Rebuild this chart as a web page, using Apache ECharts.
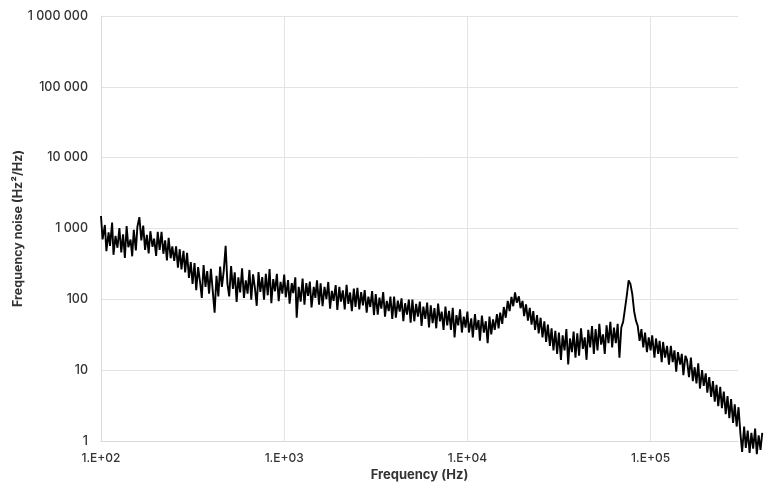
<!DOCTYPE html>
<html>
<head>
<meta charset="utf-8">
<script src="https://cdn.jsdelivr.net/npm/echarts@6/dist/echarts.min.js"></script>
<style>
html,body{margin:0;padding:0;background:#fff;}
#chart{width:775px;height:495px;}
</style>
</head>
<body>
<div id="chart"></div>
<script>
// Frequency (Hz)
const freqHz = [
  100,102,105,107,110,112,115,117,120,123,126,129,132,135,138,141,145,148,151,155,158,162,166,170,174,178,182,186,191,195,200,204,209,214,219,224,229,234,240,245,251,257,263,269,275,282,288,295,302,309,316,324,331,339,347,355,363,372,380,389,398,407,417,427,437,447,457,468,479,490,501,513,525,537,550,562,575,589,603,617,631,646,661,676,692,708,724,741,759,776,794,813,832,851,871,891,912,933,955,977,
  1000,1020,1050,1070,1100,1120,1150,1170,1200,1230,1260,1290,1320,1350,1380,1410,1450,1480,1510,1550,1580,1620,1660,1700,1740,1780,1820,1860,1910,1950,2000,2040,2090,2140,2190,2240,2290,2340,2400,2450,2510,2570,2630,2690,2750,2820,2880,2950,3020,3090,3160,3240,3310,3390,3470,3550,3630,3720,3800,3890,3980,4070,4170,4270,4370,4470,4570,4680,4790,4900,5010,5130,5250,5370,5500,5620,5750,5890,6030,6170,6310,6460,6610,6760,6920,7080,7240,7410,7590,7760,7940,8130,8320,8510,8710,8910,9120,9330,9550,9770,
  10000,10200,10500,10700,11000,11200,11500,11700,12000,12300,12600,12900,13200,13500,13800,14100,14500,14800,15100,15500,15800,16200,16600,17000,17400,17800,18200,18600,19100,19500,20000,20400,20900,21400,21900,22400,22900,23400,24000,24500,25100,25700,26300,26900,27500,28200,28800,29500,30200,30900,31600,32400,33100,33900,34700,35500,36300,37200,38000,38900,39800,40700,41700,42700,43700,44700,45700,46800,47900,49000,50100,51300,52500,53700,55000,56200,57500,58900,60300,61700,63100,64600,66100,67600,69200,70800,72400,74100,75900,77600,79400,81300,83200,85100,87100,89100,91200,93300,95500,97700,
  100000,102000,105000,107000,110000,112000,115000,117000,120000,123000,126000,129000,132000,135000,138000,141000,145000,148000,151000,155000,158000,162000,166000,170000,174000,178000,182000,186000,191000,195000,200000,204000,209000,214000,219000,224000,229000,234000,240000,245000,251000,257000,263000,269000,275000,282000,288000,295000,302000,309000,316000,324000,331000,339000,347000,355000,363000,372000,380000,389000,398000,407000
];
// Frequency noise (Hz²/Hz)
const noiseValues = [
  1500,700,1120,480,885,570,1215,425,785,535,
  1010,460,830,385,1080,545,700,405,955,490,
  1060,1450,680,1100,500,815,445,915,550,720,
  410,900,500,900,440,680,355,740,380,560,
  350,560,280,510,265,485,240,455,200,335,
  165,325,135,285,180,105,305,150,250,120,
  270,135,65,215,110,290,150,255,570,165,
  110,295,140,240,92,205,125,275,105,185,
  120,260,99,225,145,81,243,127,206,99,
  229,114,267,88,193,130,229,94,176,120,
  223,107,187,87,170,122,204,55,150,93,
  196,84,169,112,178,77,150,105,186,84,
  168,80,150,101,176,74,132,95,159,71,
  150,93,134,72,160,86,125,68,142,78,
  145,72,126,82,135,65,109,78,131,60,
  119,61,106,74,127,57,95,68,109,53,
  109,55,96,67,103,49,88,61,99,47,
  99,49,86,57,93,42,79,53,90,40,
  82,46,75,39,87,49,67,37,79,43,
  69,37,76,29,60,43,72,34,57,40,
  67,34,54,29,62,37,51,26,59,34,
  49,24,57,32,52,37,62,39,65,45,
  78,55,95,68,108,80,125,90,110,75,
  95,58,85,50,76,44,68,37,60,33,
  55,29,49,25,44,22,39,19,36,17,
  34,14,31,19,38,12,28,18,35,15,
  33,16,39,20,29,14,37,21,42,17,
  38,19,45,23,32,17,43,24,48,21,
  40,24,45,15,40,48,72,112,185,165,
  120,68,50,42,26,38,21,34,18,29,
  19,31,15,28,17,26,13,25,15,22,
  12,22,13,19,9.5,18,12,17,8.5,16,
  14,8,15,7,11,6.5,12.5,5.5,10,6,
  9,4.8,8,4.2,7,3.6,6.2,3.1,5.8,2.9,
  5,2.4,4.3,2.1,3.9,1.8,3.3,1.6,3,1.3,
  0.7,1.6,0.8,1.4,0.68,1.3,0.78,1.5,0.65,1.2,0.75,1.3
];
const xAxisTitle = 'Frequency (Hz)';
const yAxisTitle = 'Frequency noise (Hz²/Hz)';

const seriesData = freqHz.map((f, i) => [f, noiseValues[i]]);

const chart = echarts.init(document.getElementById('chart'), null, {renderer: 'canvas'});
const font = 'Inter, "Open Sans", sans-serif';
const textColor = '#333333';
const gridColor = '#e3e3e3';

// px per decade shared by both grids: x 637px / log10(3000), y 425px / 6
const xDec = 637 / Math.log10(3000);
const yDec = 425 / 6;
const dataXMax = 407000;
const dataYMin = 0.5;
const grid1Width = xDec * Math.log10(dataXMax / 100);
const grid1Height = yDec * Math.log10(1000000 / dataYMin);

chart.setOption({
  animation: false,
  backgroundColor: '#ffffff',
  grid: [
    {left: 101, right: 37, top: 16, bottom: 54, containLabel: false, outerBoundsMode: 'none'},
    {left: 101, top: 16, width: grid1Width, height: grid1Height, containLabel: false, outerBoundsMode: 'none'}
  ],
  xAxis: [{
    gridIndex: 0,
    type: 'log',
    logBase: 10,
    min: 100,
    max: 300000,
    name: xAxisTitle,
    nameLocation: 'middle',
    nameGap: 28,
    nameMoveOverlap: false,
    nameTextStyle: {fontFamily: font, fontWeight: 'bold', fontSize: 13, color: textColor},
    axisLine: {show: true, lineStyle: {color: '#d9d9d9', width: 1}},
    axisTick: {show: false},
    axisLabel: {
      margin: 11, fontFamily: font, fontSize: 12, fontWeight: 500, color: textColor,
      showMaxLabel: false,
      formatter: function (v) {
        const e = Math.round(Math.log10(v));
        if (Math.abs(Math.pow(10, e) - v) / v > 1e-6) return '';
        return '1.E+' + (e < 10 ? '0' + e : e);
      }
    },
    splitLine: {show: true, showMaxLine: false, lineStyle: {color: gridColor, width: 1}}
  }, {
    gridIndex: 1,
    type: 'log',
    logBase: 10,
    min: 100,
    max: dataXMax,
    show: false
  }],
  yAxis: [{
    gridIndex: 0,
    type: 'log',
    logBase: 10,
    min: 1,
    max: 1000000,
    name: yAxisTitle,
    nameLocation: 'middle',
    nameGap: 76,
    nameMoveOverlap: false,
    nameTextStyle: {fontFamily: font, fontWeight: 'bold', fontSize: 12.5, color: textColor},
    axisLine: {show: true, lineStyle: {color: '#d9d9d9', width: 1}},
    axisTick: {show: false},
    axisLabel: {
      margin: 13, fontFamily: font, fontSize: 12.5, fontWeight: 500, color: textColor,
      formatter: function (v) {
        return String(Math.round(v)).replace(/\B(?=(\d{3})+(?!\d))/g, ' ');
      }
    },
    splitLine: {show: true, lineStyle: {color: gridColor, width: 1}}
  }, {
    gridIndex: 1,
    type: 'log',
    logBase: 10,
    min: dataYMin,
    max: 1000000,
    show: false
  }],
  series: [{
    type: 'line',
    xAxisIndex: 0,
    yAxisIndex: 0,
    data: [],
    silent: true
  }, {
    type: 'line',
    xAxisIndex: 1,
    yAxisIndex: 1,
    data: seriesData,
    showSymbol: false,
    symbol: 'none',
    clip: false,
    lineStyle: {color: '#000000', width: 1.9},
    z: 5
  }]
});
</script>
</body>
</html>
